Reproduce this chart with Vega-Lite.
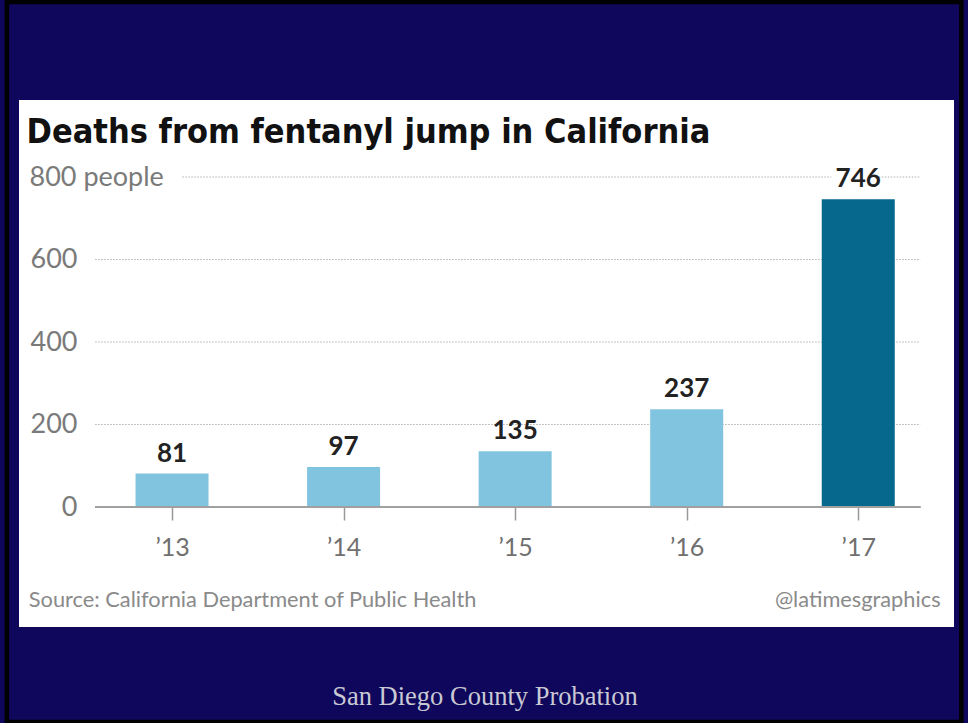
{
  "$schema": "https://vega.github.io/schema/vega-lite/v6.json",
  "width": 935,
  "height": 527,
  "autosize": {"type": "none"},
  "padding": {"left": 19, "top": 100, "right": 14, "bottom": 96},
  "background": "#0f075c",
  "config": {"view": {"fill": "white", "stroke": null}},
  "data": {"values": [
    {"year": 2013, "deaths": 81},
    {"year": 2014, "deaths": 97},
    {"year": 2015, "deaths": 135},
    {"year": 2016, "deaths": 237},
    {"year": 2017, "deaths": 746}
  ]},
  "layer": [
    {
      "data": {"values": [{"v": 200}, {"v": 400}, {"v": 600}]},
      "mark": {"type": "rule", "color": "#b0b0b0", "strokeWidth": 1, "strokeDash": [1.5, 1.5]},
      "encoding": {
        "y": {"field": "v", "type": "quantitative", "scale": {"domain": [-290.9, 986.7], "nice": false, "zero": false},
              "axis": {"values": [0, 200, 400, 600, 800], "title": null, "grid": false, "domain": false, "ticks": false, "tickSize": 0,
                       "labelFont": "Lato", "labelFontSize": 27, "labelColor": "#7a7a7a",
                       "labelAlign": {"condition": {"test": "datum.value == 800", "value": "left"}, "value": "right"},
                       "labelPadding": {"condition": {"test": "datum.value == 800", "value": -10}, "value": -58},
                       "labelBaseline": "middle",
                       "labelExpr": "datum.value == 800 ? '800 people' : datum.label"}},
        "x": {"datum": 2012.552, "type": "quantitative", "scale": {"domain": [2012.137, 2017.529], "nice": false, "zero": false},
              "axis": {"values": [2013, 2014, 2015, 2016, 2017], "title": null, "grid": false, "domain": false, "orient": "bottom", "offset": -120,
                       "ticks": true, "tickSize": 13, "tickColor": "#999999", "tickWidth": 1.5,
                       "labelFont": "Lato", "labelFontSize": 25, "labelColor": "#707070", "labelBaseline": "alphabetic", "labelPadding": 35,
                       "labelExpr": "'\u2019' + substring(format(datum.value, 'd'), 2)"}},
        "x2": {"datum": 2017.362}
      }
    },
    {
      "data": {"values": [{"v": 800}]},
      "mark": {"type": "rule", "color": "#b0b0b0", "strokeWidth": 1, "strokeDash": [1.5, 1.5]},
      "encoding": {
        "y": {"field": "v", "type": "quantitative"},
        "x": {"datum": 2013.06, "type": "quantitative"},
        "x2": {"datum": 2016.843}
      }
    },
    {
      "data": {"values": [{"v": 800}]},
      "mark": {"type": "rule", "color": "#b0b0b0", "strokeWidth": 1, "strokeDash": [1.5, 1.5]},
      "encoding": {
        "y": {"field": "v", "type": "quantitative"},
        "x": {"datum": 2017.102, "type": "quantitative"},
        "x2": {"datum": 2017.362}
      }
    },
    {
      "mark": {"type": "bar", "size": 73},
      "encoding": {
        "x": {"field": "year", "type": "quantitative"},
        "y": {"field": "deaths", "type": "quantitative"},
        "y2": {"datum": 0},
        "color": {"condition": {"test": "datum.year == 2017", "value": "#05688c"}, "value": "#80c4df"}
      }
    },
    {
      "mark": {"type": "rule", "color": "#a0a0a0", "strokeWidth": 1.5},
      "encoding": {
        "y": {"datum": 0, "type": "quantitative"},
        "x": {"datum": 2012.552, "type": "quantitative"},
        "x2": {"datum": 2017.362}
      }
    },
    {
      "mark": {"type": "text", "font": "Lato", "fontWeight": "bold", "fontSize": 26, "color": "#222222", "baseline": "alphabetic", "dy": -12},
      "encoding": {
        "x": {"field": "year", "type": "quantitative"},
        "y": {"field": "deaths", "type": "quantitative"},
        "text": {"field": "deaths", "type": "quantitative"}
      }
    },
    {
      "data": {"values": [{"t": "Deaths from fentanyl jump in California"}]},
      "mark": {"type": "text", "font": "DejaVu Sans Condensed, DejaVu Sans, Arial", "fontWeight": "bold", "fontSize": 34, "color": "#111111", "align": "left", "baseline": "alphabetic"},
      "encoding": {
        "x": {"datum": 2012.152, "type": "quantitative"},
        "y": {"datum": 882.4, "type": "quantitative"},
        "text": {"field": "t"}
      }
    },
    {
      "data": {"values": [{"t": "Source: California Department of Public Health"}]},
      "mark": {"type": "text", "font": "Lato", "fontSize": 21.8, "color": "#8a8a8a", "align": "left", "baseline": "alphabetic"},
      "encoding": {
        "x": {"datum": 2012.165, "type": "quantitative"},
        "y": {"datum": -242.4, "type": "quantitative"},
        "text": {"field": "t"}
      }
    },
    {
      "data": {"values": [{"t": "@latimesgraphics"}]},
      "mark": {"type": "text", "font": "Lato", "fontSize": 21.8, "color": "#8a8a8a", "align": "right", "baseline": "alphabetic"},
      "encoding": {
        "x": {"datum": 2017.48, "type": "quantitative"},
        "y": {"datum": -242.4, "type": "quantitative"},
        "text": {"field": "t"}
      }
    },
    {
      "data": {"values": [{"t": "San Diego County Probation"}]},
      "mark": {"type": "text", "font": "Liberation Serif", "fontSize": 26.5, "color": "#c9c9d4", "align": "center", "baseline": "alphabetic"},
      "encoding": {
        "x": {"datum": 2014.824, "type": "quantitative"},
        "y": {"datum": -480, "type": "quantitative"},
        "text": {"field": "t"}
      }
    },
    {
      "data": {"values": [{}]},
      "mark": {"type": "rect", "fill": null, "stroke": "#000000", "strokeWidth": 4.5},
      "encoding": {
        "x": {"datum": 2012.037, "type": "quantitative"},
        "x2": {"datum": 2017.601},
        "y": {"datum": 1224.2, "type": "quantitative"},
        "y2": {"datum": -521}
      }
    }
  ]
}
